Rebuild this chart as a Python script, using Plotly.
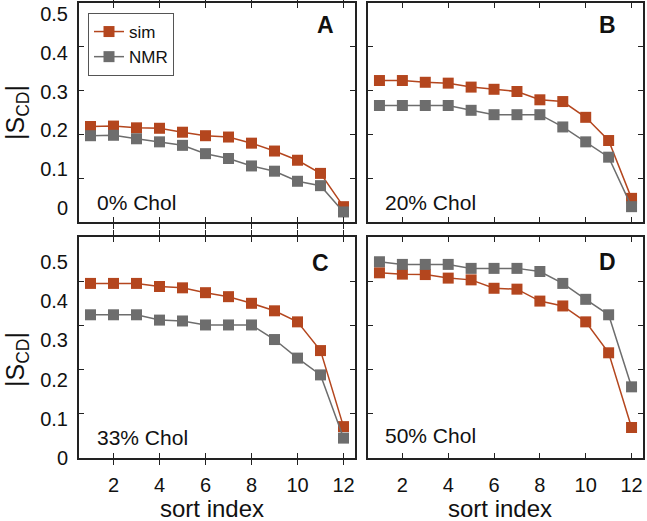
import plotly.graph_objects as go

sort_index = list(range(1, 13))

sim_0 = [0.218, 0.219, 0.215, 0.214, 0.205, 0.197, 0.194, 0.180, 0.162, 0.141, 0.111, 0.035]
nmr_0 = [0.197, 0.198, 0.190, 0.183, 0.175, 0.156, 0.145, 0.128, 0.116, 0.093, 0.083, 0.023]

sim_20 = [0.323, 0.323, 0.319, 0.317, 0.308, 0.303, 0.298, 0.279, 0.275, 0.239, 0.186, 0.054]
nmr_20 = [0.266, 0.266, 0.266, 0.266, 0.255, 0.245, 0.245, 0.245, 0.217, 0.183, 0.148, 0.035]

sim_33 = [0.395, 0.395, 0.395, 0.388, 0.385, 0.374, 0.365, 0.350, 0.333, 0.308, 0.243, 0.071]
nmr_33 = [0.324, 0.324, 0.324, 0.312, 0.310, 0.301, 0.301, 0.301, 0.268, 0.226, 0.188, 0.045]

sim_50 = [0.419, 0.416, 0.415, 0.407, 0.403, 0.384, 0.382, 0.355, 0.344, 0.308, 0.238, 0.069]
nmr_50 = [0.444, 0.438, 0.438, 0.438, 0.429, 0.429, 0.429, 0.422, 0.395, 0.359, 0.324, 0.161]

panel_letters = ["A", "B", "C", "D"]
panel_texts = ["0% Chol", "20% Chol", "33% Chol", "50% Chol"]
y_ticks = [0, 0.1, 0.2, 0.3, 0.4, 0.5]
y_ticktext = ["0", "0.1", "0.2", "0.3", "0.4", "0.5"]
x_ticks = [2, 4, 6, 8, 10, 12]

SIM_C = "#B4461E"
NMR_C = "#6D6D6D"
FONT = "Liberation Sans, Arial, sans-serif"

W, H = 647, 521
xd = [[79 / W, 355 / W], [368 / W, 643 / W]]
yd = [[1 - 222 / H, 1 - 3 / H], [1 - 458 / H, 1 - 237 / H]]
# tick-label axes: in the original figure the y labels sit on a slightly
# compressed scale relative to the tick marks
label_ranges = [[-0.036, 0.528], [0.0, 0.564]]

panels = [(sim_0, nmr_0), (sim_20, nmr_20), (sim_33, nmr_33), (sim_50, nmr_50)]

fig = go.Figure()
layout = {}
for i, (s, n) in enumerate(panels):
    r, c = divmod(i, 2)
    ax = "" if i == 0 else str(i + 1)
    fig.add_trace(go.Scatter(x=sort_index, y=s, mode="lines+markers", name="sim",
                             line=dict(color=SIM_C, width=1.5),
                             marker=dict(symbol="square", size=11, color=SIM_C),
                             showlegend=(i == 0), xaxis="x" + ax, yaxis="y" + ax,
                             cliponaxis=False))
    fig.add_trace(go.Scatter(x=sort_index, y=n, mode="lines+markers", name="NMR",
                             line=dict(color=NMR_C, width=1.5),
                             marker=dict(symbol="square", size=11, color=NMR_C),
                             showlegend=(i == 0), xaxis="x" + ax, yaxis="y" + ax,
                             cliponaxis=False))
    layout["xaxis" + ax] = dict(domain=xd[c], anchor="y" + ax, range=[0.5, 12.5],
                                tickvals=x_ticks, showticklabels=(r == 1),
                                ticks="inside", ticklen=5, tickcolor="#222",
                                showline=True, linecolor="#222", linewidth=2,
                                mirror="allticks", showgrid=False, zeroline=False,
                                tickfont=dict(size=20, color="#111", family=FONT),
                                ticklabelstandoff=8, automargin=False)
    layout["yaxis" + ax] = dict(domain=yd[r], anchor="x" + ax, range=[0, 0.5],
                                tickvals=y_ticks, showticklabels=False,
                                ticks="inside", ticklen=5, tickcolor="#222",
                                showline=True, linecolor="#222", linewidth=2,
                                mirror="allticks", showgrid=False, zeroline=False,
                                automargin=False)

# label-only y axes for the left column (empty traces so the axes get drawn)
for r, (xname, yname, lname) in enumerate((("x", "y", "y5"), ("x3", "y3", "y6"))):
    fig.add_trace(go.Scatter(x=[], y=[], xaxis=xname, yaxis=lname,
                             showlegend=False, hoverinfo="skip"))
    layout["yaxis" + lname[1:]] = dict(domain=yd[r], anchor=xname,
                                       overlaying=yname, side="left", range=label_ranges[r],
                                       tickvals=y_ticks, ticktext=y_ticktext, ticks="",
                                       showline=False, showgrid=False, zeroline=False,
                                       tickfont=dict(size=20, color="#111", family=FONT),
                                       ticklabelstandoff=10, automargin=False,
                                       ticklabeloverflow="allow")

annotations = []
letter_pos = [(325, 25), (607, 25), (320, 263), (607, 262)]
text_pos = [(95, 202), (383, 202), (95, 437), (383, 435)]
for i in range(4):
    lx, ly = letter_pos[i]
    annotations.append(dict(text="<b>" + panel_letters[i] + "</b>", x=lx / W, y=1 - ly / H,
                            xref="paper", yref="paper", xanchor="center", yanchor="middle",
                            showarrow=False, font=dict(size=23, color="#111", family=FONT)))
    tx, ty = text_pos[i]
    annotations.append(dict(text=panel_texts[i], x=tx / W, y=1 - ty / H,
                            xref="paper", yref="paper", xanchor="left", yanchor="middle",
                            showarrow=False, font=dict(size=21, color="#111", family=FONT)))
for yc in (113, 360):
    annotations.append(dict(text="|S<sub>CD</sub>|", x=17 / W, y=1 - yc / H,
                            xref="paper", yref="paper", xanchor="center", yanchor="middle",
                            textangle=-90, showarrow=False,
                            font=dict(size=25, color="#111", family=FONT)))
for xc in (212, 500):
    annotations.append(dict(text="sort index", x=xc / W, y=1 - 508 / H,
                            xref="paper", yref="paper", xanchor="center", yanchor="middle",
                            showarrow=False, font=dict(size=24, color="#111", family=FONT)))

fig.update_layout(**layout)
fig.update_layout(
    width=W, height=H, margin=dict(l=0, r=0, t=0, b=0, autoexpand=False),
    paper_bgcolor="white", plot_bgcolor="white",
    font=dict(family=FONT, color="#111"),
    annotations=annotations,
    legend=dict(x=88 / W, y=1 - 13 / H, xanchor="left", yanchor="top",
                bgcolor="white", bordercolor="#555", borderwidth=1,
                font=dict(size=17, family=FONT, color="#111"),
                itemwidth=30, tracegroupgap=0),
)

fig.write_html("out.html", post_script="document.body.style.margin='0';",
               config={"displayModeBar": False})
